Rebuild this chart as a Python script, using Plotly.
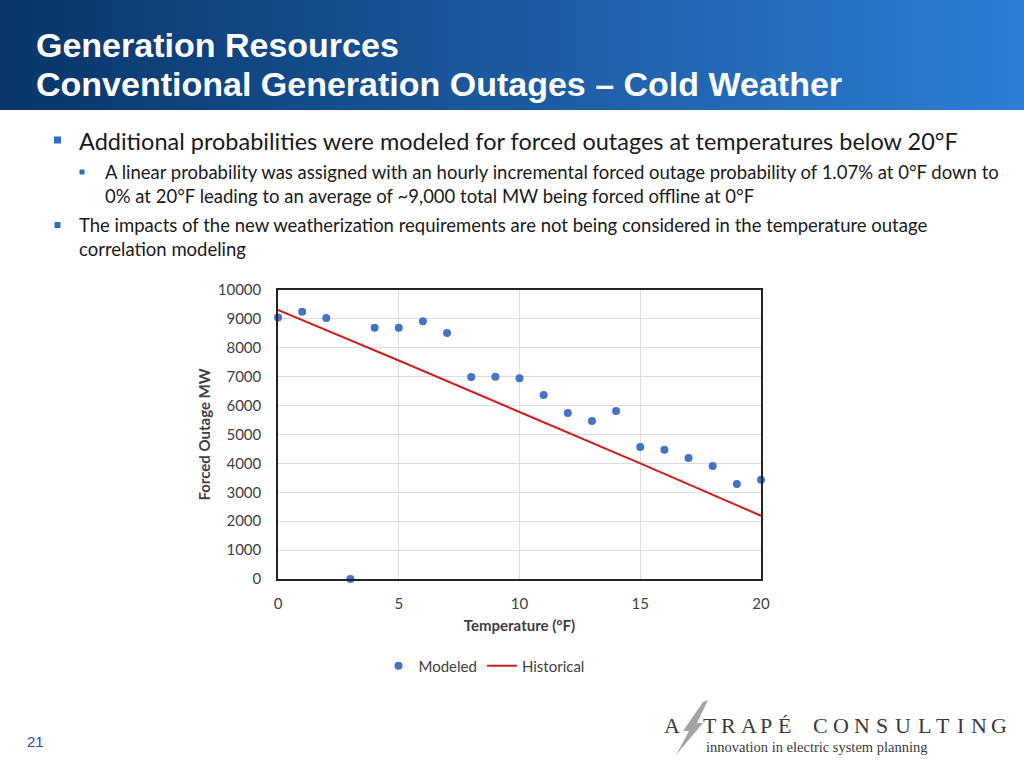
import plotly.graph_objects as go

# ---- data ----
temps_modeled = list(range(0, 21))
mw_modeled = [9050, 9250, 9030, 0, 8690, 8690, 8920, 8510, 6990, 7000, 6950,
              6370, 5740, 5470, 5810, 4570, 4470, 4190, 3910, 3290, 3430]
temps_hist = [0, 5, 10, 15, 20]
mw_hist = [9310, 7560, 5780, 4000, 2190]

x_ticks = [0, 5, 10, 15, 20]
y_ticks = list(range(0, 10001, 1000))
y_tick_text = [str(v) for v in y_ticks]

W, H = 1024, 768
def px(x):
    return x / W
def py(y):
    return 1 - y / H

fig = go.Figure()
fig.add_trace(go.Scatter(x=temps_modeled, y=mw_modeled, mode="markers", name="Modeled",
                         marker=dict(color="#4472C4", size=8), cliponaxis=False))
fig.add_trace(go.Scatter(x=temps_hist, y=mw_hist, mode="lines", name="Historical",
                         line=dict(color="#D01F1F", width=2)))

shapes = []
# header gradient
n = 64
c0 = (10, 54, 106)
c1 = (46, 126, 214)
for i in range(n):
    t = i / (n - 1)
    c = tuple(int(c0[k] + (c1[k] - c0[k]) * t) for k in range(3))
    shapes.append(dict(type="rect", xref="paper", yref="paper",
                       x0=i / n, x1=(i + 1) / n + 0.002, y0=py(110), y1=1,
                       fillcolor="rgb(%d,%d,%d)" % c, line=dict(width=0), layer="below"))

# bullet squares
for (bx, by, s) in [(57.5, 140, 7), (82, 172, 5), (57.5, 225, 6)]:
    shapes.append(dict(type="rect", xref="paper", yref="paper",
                       x0=px(bx - s / 2), x1=px(bx + s / 2), y0=py(by + s / 2), y1=py(by - s / 2),
                       fillcolor="#2E6FC0", line=dict(width=0)))

# lightning bolt in logo
bolt = [(708, 700), (697, 723), (703, 723), (676, 755), (689, 731), (683, 731), (703, 702)]
path = "M " + " L ".join("%f,%f" % (px(a), py(b)) for a, b in bolt) + " Z"
shapes.append(dict(type="path", xref="paper", yref="paper", path=path,
                   fillcolor="#A3A3A3", line=dict(width=0)))

ann = []
ann.append(dict(text="Generation Resources", x=px(34), y=py(45), xref="paper", yref="paper",
                xanchor="left", yanchor="middle", showarrow=False,
                font=dict(family="Liberation Sans", size=34, color="white", weight="bold")))
ann.append(dict(text="Conventional Generation Outages – Cold Weather", x=px(34), y=py(84),
                xref="paper", yref="paper", xanchor="left", yanchor="middle", showarrow=False,
                font=dict(family="Liberation Sans", size=34, color="white", weight="bold")))

body = [
    (77, 141, 23.5, "Additional probabilities were modeled for forced outages at temperatures below 20°F"),
    (103, 172, 18.5, "A linear probability was assigned with an hourly incremental forced outage probability of 1.07% at 0°F down to"),
    (103, 196, 18.5, "0% at 20°F leading to an average of ~9,000 total MW being forced offline at 0°F"),
    (77, 225, 18.5, "The impacts of the new weatherization requirements are not being considered in the temperature outage"),
    (77, 249, 18.5, "correlation modeling"),
]
for x, y, s, t in body:
    ann.append(dict(text=t, x=px(x), y=py(y), xref="paper", yref="paper",
                    xanchor="left", yanchor="middle", showarrow=False,
                    font=dict(family="Lato", size=s, color="#1A1A1A")))

ann.append(dict(text="21", x=px(25), y=py(741), xref="paper", yref="paper",
                xanchor="left", yanchor="middle", showarrow=False,
                font=dict(family="Liberation Sans", size=15, color="#1F4E9A")))

# logo letters
logo_letters = [("A", 672), ("T", 710), ("R", 728.5), ("A", 748.5), ("P", 766), ("É", 784),
                ("C", 820), ("O", 840.5), ("N", 862), ("S", 882), ("U", 903), ("L", 924),
                ("T", 942.5), ("I", 960), ("N", 979), ("G", 999)]
for ch, cx in logo_letters:
    ann.append(dict(text=ch, x=px(cx), y=py(725), xref="paper", yref="paper",
                    xanchor="center", yanchor="middle", showarrow=False,
                    font=dict(family="Liberation Serif", size=22, color="#3A3A3A")))
ann.append(dict(text="innovation in electric system planning", x=px(704), y=py(747), xref="paper",
                yref="paper", xanchor="left", yanchor="middle", showarrow=False,
                font=dict(family="Liberation Serif", size=14.5, color="#3A3A3A")))

fig.update_layout(
    autosize=True, margin=dict(l=0, r=0, t=0, b=0, autoexpand=False),
    paper_bgcolor="white", plot_bgcolor="white",
    shapes=shapes, annotations=ann,
    font=dict(family="Lato", color="#404040"),
    showlegend=True,
    legend=dict(orientation="h", x=px(484), y=py(666), xanchor="center", yanchor="middle",
                font=dict(family="Lato", size=15, color="#404040"), itemwidth=30,
                bgcolor="rgba(0,0,0,0)"),
    xaxis=dict(domain=[px(278), px(761)], range=[0, 20], tickvals=x_ticks,
               showgrid=True, gridcolor="#DDDDDD", gridwidth=1, zeroline=False,
               showline=True, linecolor="#222222", linewidth=1.5, mirror=True,
               ticks="", ticklabelstandoff=10,
               tickfont=dict(family="Lato", size=15, color="#404040"),
               title=dict(text="<b>Temperature (°F)</b>", standoff=10,
                          font=dict(family="Lato", size=15, color="#404040"))),
    yaxis=dict(domain=[py(579), py(290)], range=[0, 10000], tickvals=y_ticks,
               ticktext=y_tick_text,
               showgrid=True, gridcolor="#DDDDDD", gridwidth=1, zeroline=False,
               showline=True, linecolor="#222222", linewidth=1.5, mirror=True,
               ticks="", ticklabelstandoff=12,
               tickfont=dict(family="Lato", size=15, color="#404040"),
               title=dict(text="<b>Forced Outage MW</b>", standoff=4,
                          font=dict(family="Lato", size=15, color="#404040"))),
)

fig.write_html("out.html", default_width="100vw", default_height="100vh",
               config={"displayModeBar": False, "responsive": True},
               post_script="document.body.style.margin='0';document.body.style.padding='0';"
                           "document.body.style.overflow='hidden';"
                           "document.documentElement.style.overflow='hidden';")
